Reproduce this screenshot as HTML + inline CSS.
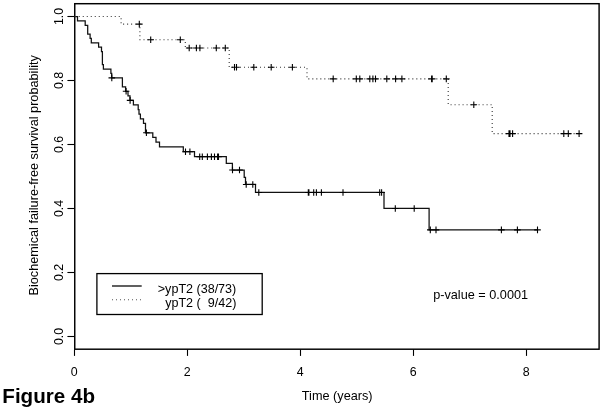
<!DOCTYPE html>
<html><head><meta charset="utf-8"><style>
html,body{margin:0;padding:0;background:#fff;}
body{width:603px;height:411px;overflow:hidden;}
svg{display:block;}
text{font-family:'Liberation Sans',Arial,Helvetica,sans-serif;font-size:12.7px;fill:#000;}
.t{font-size:12.4px;}
.lg{font-size:12.55px;}
</style></head><body>
<svg width="603" height="411" viewBox="0 0 603 411">
<rect x="0" y="0" width="603" height="411" fill="#fff"/>
<g fill="none" stroke="#000" stroke-width="1.1">
<rect x="74.75" y="3.7" width="524.35" height="345.5" stroke-width="1.45"/>
<path d="M67.4,336.50H74.5"/><path d="M67.4,272.50H74.5"/><path d="M67.4,208.50H74.5"/><path d="M67.4,144.50H74.5"/><path d="M67.4,80.50H74.5"/><path d="M67.4,16.50H74.5"/>
<path d="M74.50,349.5V355.9"/><path d="M187.50,349.5V355.9"/><path d="M300.50,349.5V355.9"/><path d="M413.50,349.5V355.9"/><path d="M526.50,349.5V355.9"/>
<path d="M74.75,16.50H77.5V20.88H85.2V25.27H87.7V34.03H90.1V38.42H91.3V42.80H98.6V47.18H101.5V51.57H102.4V64.72H103.4V69.10H110.9V73.49H111.7V77.87H122.4V86.79H125.6V91.25H128.0V95.79H130.0V100.33H133.4V104.96H138.2V109.59H139.0V114.22H140.4V118.85H143.5V123.48H145.5V132.75H152.8V137.48H156.0V142.22H159.5V146.96H183.3V151.70H194.5V156.69H226.3V163.35H232.4V170.01H244.2V177.25H245.5V184.49H255.5V192.49H384.0V208.49H429.1V229.83H537.5" stroke="#111" stroke-width="1.25"/>
<path d="M108.5,77.87h6.6M111.8,74.57v6.6M122.8,91.25h6.6M126.1,87.95v6.6M126.8,100.33h6.6M130.1,97.03v6.6M143.1,132.75h6.6M146.4,129.45v6.6M182.2,151.70h6.6M185.5,148.40v6.6M186.6,151.70h6.6M189.9,148.40v6.6M196.4,156.69h6.6M199.7,153.39v6.6M199.0,156.69h6.6M202.3,153.39v6.6M204.1,156.69h6.6M207.4,153.39v6.6M208.1,156.69h6.6M211.4,153.39v6.6M211.2,156.69h6.6M214.5,153.39v6.6M214.3,156.69h6.6M217.6,153.39v6.6M214.3,156.69h6.6M217.6,153.39v6.6M215.2,156.69h6.6M218.5,153.39v6.6M215.2,156.69h6.6M218.5,153.39v6.6M229.2,170.01h6.6M232.5,166.71v6.6M236.2,170.01h6.6M239.5,166.71v6.6M242.9,184.49h6.6M246.2,181.19v6.6M249.5,184.49h6.6M252.8,181.19v6.6M255.5,192.49h6.6M258.8,189.19v6.6M305.0,192.49h6.6M308.3,189.19v6.6M305.6,192.49h6.6M308.9,189.19v6.6M310.4,192.49h6.6M313.7,189.19v6.6M313.1,192.49h6.6M316.4,189.19v6.6M318.1,192.49h6.6M321.4,189.19v6.6M339.7,192.49h6.6M343.0,189.19v6.6M376.4,192.49h6.6M379.7,189.19v6.6M378.3,192.49h6.6M381.6,189.19v6.6M392.0,208.49h6.6M395.3,205.19v6.6M410.9,208.49h6.6M414.2,205.19v6.6M427.0,229.83h6.6M430.3,226.53v6.6M432.7,229.83h6.6M436.0,226.53v6.6M498.1,229.83h6.6M501.4,226.53v6.6M514.1,229.83h6.6M517.4,226.53v6.6M534.2,229.83h6.6M537.5,226.53v6.6"/>
<path d="M74.75,16.50H121.1V24.12H139.9V39.74H185.3V47.98H229.2V67.22H307.0V78.92H448.2V104.68H492.2V133.66H579.1" stroke-dasharray="1 3" stroke="#333"/>
<path d="M136.0,24.12h6.6M139.3,20.82v6.6M147.4,39.74h6.6M150.7,36.44v6.6M177.0,39.74h6.6M180.3,36.44v6.6M185.9,47.98h6.6M189.2,44.68v6.6M193.1,47.98h6.6M196.4,44.68v6.6M196.6,47.98h6.6M199.9,44.68v6.6M213.0,47.98h6.6M216.3,44.68v6.6M222.0,47.98h6.6M225.3,44.68v6.6M231.2,67.22h6.6M234.5,63.92v6.6M233.2,67.22h6.6M236.5,63.92v6.6M250.5,67.22h6.6M253.8,63.92v6.6M267.9,67.22h6.6M271.2,63.92v6.6M289.1,67.22h6.6M292.4,63.92v6.6M329.9,78.92h6.6M333.2,75.62v6.6M353.0,78.92h6.6M356.3,75.62v6.6M356.5,78.92h6.6M359.8,75.62v6.6M366.5,78.92h6.6M369.8,75.62v6.6M369.6,78.92h6.6M372.9,75.62v6.6M372.2,78.92h6.6M375.5,75.62v6.6M383.5,78.92h6.6M386.8,75.62v6.6M392.3,78.92h6.6M395.6,75.62v6.6M398.6,78.92h6.6M401.9,75.62v6.6M428.3,78.92h6.6M431.6,75.62v6.6M428.9,78.92h6.6M432.2,75.62v6.6M443.0,78.92h6.6M446.3,75.62v6.6M470.5,104.68h6.6M473.8,101.38v6.6M505.7,133.66h6.6M509.0,130.36v6.6M506.2,133.66h6.6M509.5,130.36v6.6M506.7,133.66h6.6M510.0,130.36v6.6M509.3,133.66h6.6M512.6,130.36v6.6M560.5,133.66h6.6M563.8,130.36v6.6M565.0,133.66h6.6M568.3,130.36v6.6M575.8,133.66h6.6M579.1,130.36v6.6"/>
<rect x="96.9" y="273.6" width="165.3" height="40.9" stroke-width="1.3"/>
<path d="M112,286H141.7" stroke-width="1.25"/>
<path d="M112,299.8H141.7" stroke-dasharray="1 3" stroke="#555"/>
</g>
<g>
<text class="t" transform="translate(62.7,336.50) rotate(-90)" text-anchor="middle">0.0</text><text class="t" transform="translate(62.7,272.50) rotate(-90)" text-anchor="middle">0.2</text><text class="t" transform="translate(62.7,208.50) rotate(-90)" text-anchor="middle">0.4</text><text class="t" transform="translate(62.7,144.50) rotate(-90)" text-anchor="middle">0.6</text><text class="t" transform="translate(62.7,80.50) rotate(-90)" text-anchor="middle">0.8</text><text class="t" transform="translate(62.7,16.50) rotate(-90)" text-anchor="middle">1.0</text>
<text class="t" x="74.20" y="375.8" text-anchor="middle">0</text><text class="t" x="187.20" y="375.8" text-anchor="middle">2</text><text class="t" x="300.20" y="375.8" text-anchor="middle">4</text><text class="t" x="413.20" y="375.8" text-anchor="middle">6</text><text class="t" x="526.20" y="375.8" text-anchor="middle">8</text>
<text transform="translate(37.7,175.3) rotate(-90)" text-anchor="middle">Biochemical failure-free survival probability</text>
<text x="337.2" y="400.4" text-anchor="middle">Time (years)</text>
<text class="lg" x="157.8" y="293.2" xml:space="preserve" style="white-space:pre">&gt;ypT2 (38/73)</text>
<text class="lg" x="165.2" y="306.7" xml:space="preserve" style="white-space:pre">ypT2 (  9/42)</text>
<text x="433.2" y="299.1">p-value = 0.0001</text>
<text x="2.3" y="403" style="font-weight:bold;font-size:20.6px">Figure 4b</text>
</g>
</svg>
</body></html>
